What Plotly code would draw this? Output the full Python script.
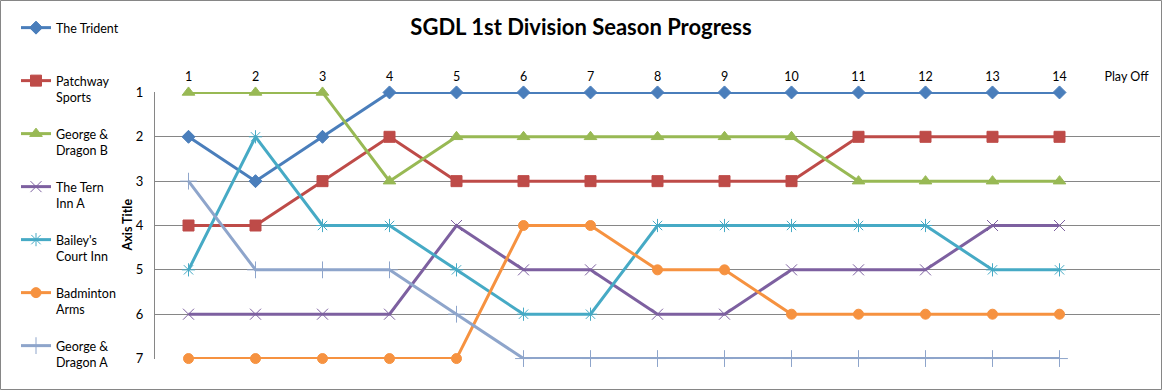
import plotly.graph_objects as go

rounds = list(range(1, 15))
tick_labels = [str(i) for i in range(1, 15)] + ["Play Off"]

teams = ["The Trident", "Patchway Sports", "George & Dragon B", "The Tern Inn A",
         "Bailey's Court Inn", "Badminton Arms", "George & Dragon A"]
legend_text = ["The Trident<br>\u00a0", "Patchway<br>Sports", "George &<br>Dragon B", "The Tern<br>Inn A",
               "Bailey's<br>Court Inn", "Badminton<br>Arms", "George &<br>Dragon A"]

trident = [2, 3, 2, 1, 1, 1, 1, 1, 1, 1, 1, 1, 1, 1]
patchway = [4, 4, 3, 2, 3, 3, 3, 3, 3, 3, 2, 2, 2, 2]
gd_b = [1, 1, 1, 3, 2, 2, 2, 2, 2, 2, 3, 3, 3, 3]
tern = [6, 6, 6, 6, 4, 5, 5, 6, 6, 5, 5, 5, 4, 4]
baileys = [5, 2, 4, 4, 5, 6, 6, 4, 4, 4, 4, 4, 5, 5]
badminton = [7, 7, 7, 7, 7, 4, 4, 5, 5, 6, 6, 6, 6, 6]
gd_a = [3, 5, 5, 5, 6, 7, 7, 7, 7, 7, 7, 7, 7, 7]

series = [trident, patchway, gd_b, tern, baileys, badminton, gd_a]
colors = ["#4A7EBB", "#BE4B48", "#98B954", "#7D60A0", "#46AAC5", "#F69240", "#8EA5CB"]
symbols = ["diamond", "square", "triangle-up", "x-thin-open", "asterisk-open", "circle", "cross-thin-open"]
sizes = [10, 11, 11, 11, 11, 10, 12]

FONT = "Lato"
W, H = 1162, 390
L, R, T, B = 155, 2, 92, 31
PW, PH = W - L - R, H - T - B

fig = go.Figure()
for i, (name, vals) in enumerate(zip(teams, series)):
    fig.add_trace(go.Scatter(
        x=rounds, y=vals, name=legend_text[i], mode="lines+markers",
        line=dict(color=colors[i], width=3),
        marker=dict(symbol=symbols[i], size=sizes[i], color=colors[i],
                    line=dict(color=colors[i], width=1)),
        cliponaxis=False, legendgroup=f"g{i}",
    ))

def px_x(x):
    return (x - L) / PW

def px_y(y):
    return (H - B - y) / PH

fig.update_layout(
    width=W, height=H,
    margin=dict(l=L, r=R, t=T, b=B),
    paper_bgcolor="white", plot_bgcolor="white",
    font=dict(family=FONT, size=13, color="#000000"),
    title=dict(text="<b>SGDL 1st Division Season Progress</b>", x=0.5, xref="container",
               y=1 - 27 / H, yref="container", yanchor="middle", xanchor="center",
               font=dict(family=FONT, size=22, color="#000000")),
    showlegend=True,
    legend=dict(xref="container", yref="container", x=16 / W, y=1 - 13 / H,
                xanchor="left", yanchor="top", valign="top", tracegroupgap=17.5,
                maxheight=1.0,
                font=dict(family=FONT, size=12.5, color="#000000"),
                bgcolor="rgba(0,0,0,0)", itemwidth=30),
    xaxis=dict(side="top", range=[0.5, 15.5], tickvals=list(range(1, 16)), ticktext=tick_labels,
               showgrid=False, zeroline=False, showline=False, ticks="",
               ticklabelstandoff=8, tickfont=dict(family=FONT, size=12.5)),
    yaxis=dict(range=[7.01, 0.99], tickvals=list(range(1, 8)), showgrid=True, gridcolor="#868686",
               gridwidth=1, zeroline=False, showline=True, linecolor="#868686", linewidth=1,
               ticks="", ticklabelstandoff=8, tickfont=dict(family=FONT, size=13)),
    annotations=[dict(text="<b>Axis Title</b>", x=px_x(127), y=0.5, xref="paper", yref="paper",
                      textangle=-90, showarrow=False, font=dict(family=FONT, size=12.5),
                      xanchor="center", yanchor="middle")],
    shapes=[dict(type="rect", xref="paper", yref="paper",
                 x0=px_x(0.5), x1=px_x(1161.5), y0=px_y(389.5), y1=px_y(0.5),
                 line=dict(color="#868686", width=1), layer="below")],
)

fig.write_html("out.html", config={"displayModeBar": False},
               post_script="document.body.style.margin='0';document.body.style.overflow='hidden';")
